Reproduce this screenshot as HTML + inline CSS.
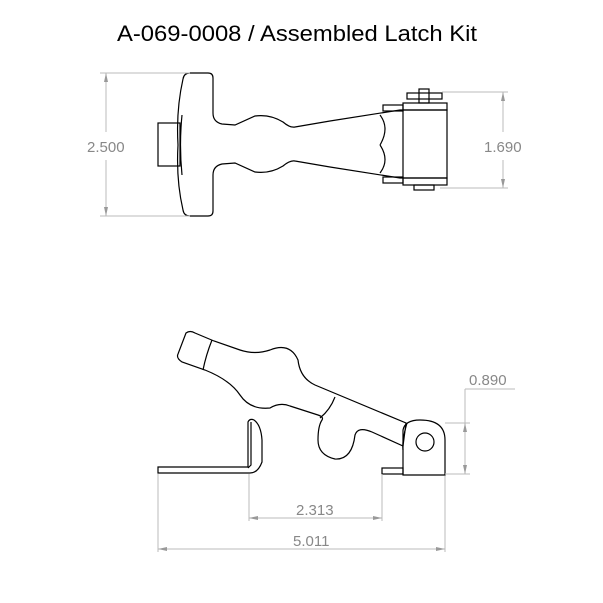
<!DOCTYPE html>
<html><head><meta charset="utf-8"><style>html,body{margin:0;padding:0;background:#fff}svg{display:block}</style></head>
<body>
<svg width="603" height="603" viewBox="0 0 603 603" xmlns="http://www.w3.org/2000/svg">
<rect width="603" height="603" fill="#fff"/>
<text x="117" y="41" font-family="Liberation Sans, sans-serif" font-size="22" textLength="360" lengthAdjust="spacingAndGlyphs" fill="#000">A-069-0008 / Assembled Latch Kit</text>

<!-- TOP VIEW -->
<g fill="none" stroke="#000" stroke-width="1.2">
  <rect x="158" y="123" width="22" height="43"/>
  <path d="M190,73 L208,73 Q213,73 213,78 L213,113 Q213,122 222,124 L235,125 L255,116 Q270,114 283,122 Q290,128 295,127 L330,121 L400,110 L447,110 L447,178 L400,178 L330,167 L295,161 Q290,160 283,166 Q270,174 255,172 L235,163 L222,164 Q213,166 213,175 L213,211 Q213,216 208,216 L190,216 Q184,216 183,210 Q176,180 178,145 Q176,110 183,79 Q184,73 190,73 Z"/>
  <path d="M182,115 Q179,145 182,175"/>
  <path d="M403,110 L403,178 M380,115 Q390,128 380,145 M380,173 Q390,160 380,145" />
  <rect x="383" y="105" width="20" height="6"/>
  <rect x="383" y="177" width="20" height="6"/>
  <rect x="403" y="103" width="44" height="7"/>
  <rect x="403" y="178" width="44" height="7"/>
  <rect x="407" y="93" width="35" height="6"/>
  <rect x="419" y="89" width="10" height="14"/>
  <rect x="414" y="185" width="20" height="5"/>
</g>
<g stroke="#bbb" stroke-width="1" fill="none">
  <line x1="100" y1="73" x2="190" y2="73"/><line x1="100" y1="216" x2="190" y2="216"/>
  <line x1="106" y1="73" x2="106" y2="132"/><line x1="106" y1="160" x2="106" y2="216"/>
  <line x1="442" y1="92" x2="508" y2="92"/><line x1="440" y1="188" x2="508" y2="188"/>
  <line x1="503" y1="92" x2="503" y2="132"/><line x1="503" y1="160" x2="503" y2="188"/>
</g>
<g fill="#999"><path d="M106,73 l-2,9 h4z M106,216 l-2,-9 h4z M503,92 l-2,9 h4z M503,188 l-2,-9 h4z"/></g>
<g font-family="Liberation Sans, sans-serif" font-size="15" fill="#888">
  <text x="87" y="152">2.500</text>
<text x="484" y="152">1.690</text>
</g>

<!-- SIDE VIEW -->
<g fill="none" stroke="#000" stroke-width="1.2">
  <path d="M158,467 L248,467 L248,422 Q250,418 254,420 Q261,425 262,440 L262,462 Q258,473 250,473 L158,473 Z"/>
  <path d="M251,422 L251,465 L248,468"/>
  <rect x="382" y="468" width="21" height="6"/>
  <path d="M403,475 L403,430 Q405,420 420,420 Q445,420 445,440 L445,475 Z"/>
  <path d="M407,423 Q402,440 403,450"/>
  <circle cx="425" cy="442" r="9"/>
  <path d="M186,333 Q190,330 195,333 L214,341 L240,350 Q255,355 270,350 Q290,342 298,360 Q300,378 315,385 L406,423 L403,446 L372,432 Q358,426 355,435 Q352,460 335,459 Q318,455 318,440 Q318,426 322,420 Q324,417 318,415 L290,406 Q280,402 270,408 Q250,410 240,395 Q230,380 205,370 L182,362 Q176,358 178,354 Z"/>
  <path d="M212,340 Q206,355 203,370"/>
  <path d="M335,397 Q330,410 320,418"/>
</g>
<g stroke="#bbb" stroke-width="1" fill="none">
  <line x1="445" y1="423" x2="470" y2="423"/><line x1="445" y1="474" x2="470" y2="474"/>
  <line x1="465" y1="389" x2="465" y2="474"/><line x1="465" y1="389" x2="515" y2="389"/>
  <line x1="249" y1="474" x2="249" y2="521"/><line x1="382" y1="474" x2="382" y2="521"/>
  <line x1="249" y1="518" x2="382" y2="518"/>
  <line x1="158" y1="474" x2="158" y2="552"/><line x1="445" y1="476" x2="445" y2="552"/>
  <line x1="158" y1="549" x2="445" y2="549"/>
</g>
<g fill="#999"><path d="M465,423 l-2,9 h4z M465,474 l-2,-9 h4z M249,518 l9,-2 v4z M382,518 l-9,-2 v4z M158,549 l9,-2 v4z M445,549 l-9,-2 v4z"/></g>
<g font-family="Liberation Sans, sans-serif" font-size="15" fill="#888">
  <text x="469" y="385">0.890</text>
  <text x="296" y="515">2.313</text>
  <text x="293" y="546">5.011</text>
</g>
</svg>
</body></html>
